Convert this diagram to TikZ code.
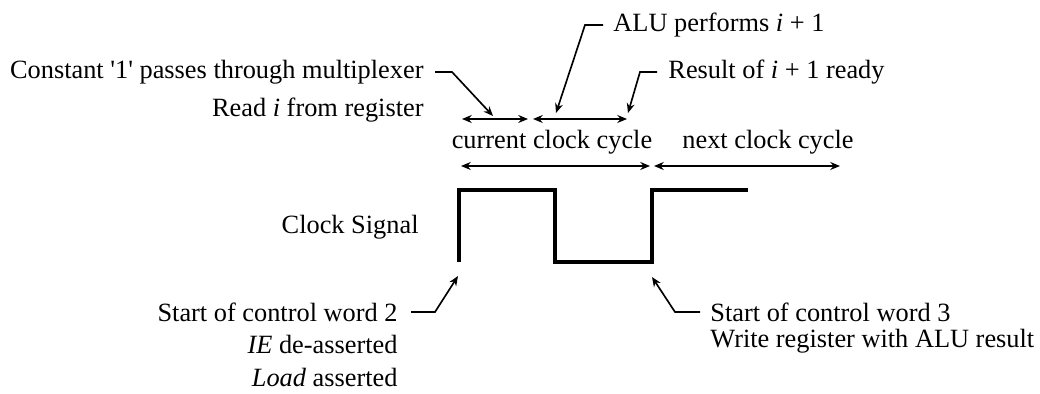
\documentclass[tikz,border=0pt]{standalone}
\usepackage{fontspec}
\setmainfont{Liberation Serif}
\usetikzlibrary{arrows.meta,calc}

\begin{document}
\begin{tikzpicture}[
  x=0.016cm,y=-0.016cm,
  font=\fontsize{12}{14}\selectfont,
  clk/.style={line width=1.4pt,line join=miter},
  span/.style={line width=0.75pt,{Stealth[length=4.4pt,width=3.6pt]}-{Stealth[length=4.4pt,width=3.6pt]}},
  lead/.style={line width=0.75pt,-{Stealth[length=4.4pt,width=3.6pt]}},
  lbl/.style={inner sep=0pt}
]
\useasboundingbox (0,0) rectangle (1040,394);

% ---- clock signal ----
\coordinate (r1) at (459,262);
\coordinate (f1) at (555,190);
\coordinate (r2) at (652,262);
\coordinate (e1) at (748,190);
\draw[clk] (r1) |- (f1) |- (r2) |- (e1);
\node[lbl,anchor=east] (sig) at (419,227) {Clock Signal};

% ---- clock cycles ----
\coordinate (c0) at (461,166);
\coordinate (c1) at (650,166);
\coordinate (n0) at (654,166);
\coordinate (n1) at (840,166);
\draw[span] (c0) -- (c1);
\draw[span] (n0) -- (n1);
\node[lbl] (cur) at (552,142) {current clock cycle};
\node[lbl] (nxt) at (768,142) {next clock cycle};

% ---- phases inside the current cycle ----
\coordinate (m0) at (462,119);
\coordinate (m1) at (528,119);
\coordinate (a0) at (533,119);
\coordinate (a1) at (627,119);
\draw[span] (m0) -- (m1);
\draw[span] (a0) -- (a1);

% ---- upper notes ----
\node[lbl,anchor=east] (const) at (424,72) {Constant \textquotesingle1\textquotesingle\ passes through multiplexer};
\node[lbl,anchor=east] (read) at (424,110) {Read \textit{i} from register};
\coordinate (t1) at (493,116);
\draw[lead] ($(const.east)+(11,0)$) -- ++(17,0) -- (t1);

\node[lbl,anchor=west] (alu) at (613,25) {ALU performs \textit{i} + 1};
\coordinate (t2) at (556,113);
\draw[lead] ($(alu.west)+(-10,0)$) -- ++(-18,0) -- (t2);

\node[lbl,anchor=west] (res) at (668,72) {Result of \textit{i} + 1 ready};
\coordinate (t3) at (628,113);
\draw[lead] ($(res.west)+(-11,0)$) -- ++(-17,0) -- (t3);

% ---- lower notes ----
\node[lbl,anchor=east] (cw2) at (398,312) {Start of control word 2};
\node[lbl,anchor=east] (ie) at (398,344) {\textit{IE} de-asserted};
\node[lbl,anchor=east] (ld) at (398,377) {\textit{Load} asserted};
\coordinate (t4) at (458,276);
\draw[lead] ($(cw2.east)+(13,0)$) -- ++(24,0) -- (t4);

\node[lbl,anchor=west] (cw3) at (710,312) {Start of control word 3};
\node[lbl,anchor=west] (wr) at (710,341) {Write register with ALU result};
\coordinate (t5) at (652,277);
\draw[lead] ($(cw3.west)+(-10,0)$) -- ++(-25,0) -- (t5);

\end{tikzpicture}
\end{document}
